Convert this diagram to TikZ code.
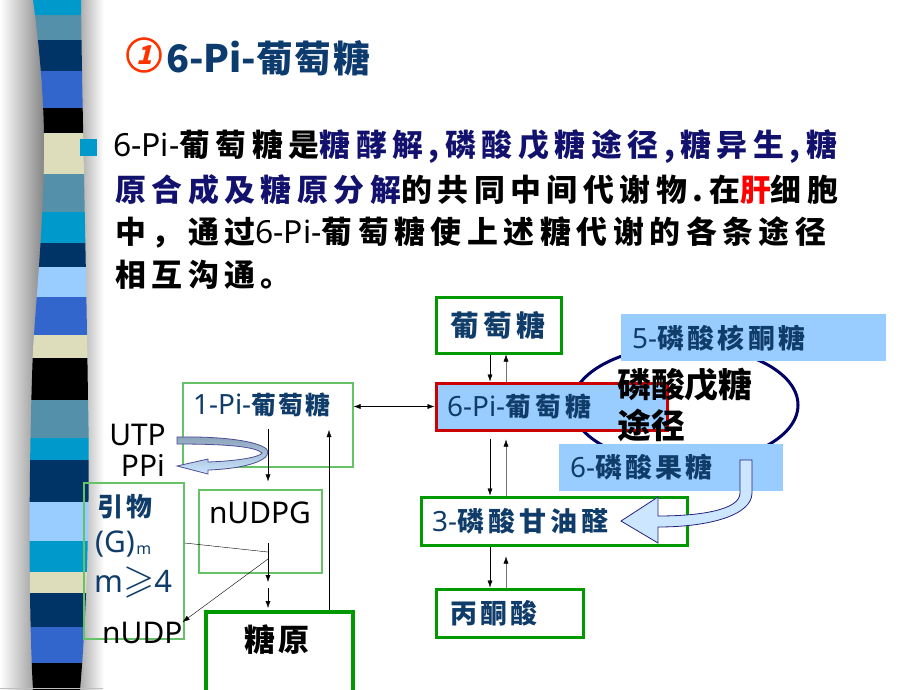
\documentclass[tikz,border=0pt]{standalone}
\usepackage{fontspec}
\usepackage{amssymb}
\setmainfont{Noto Sans}
\newfontfamily\cjk{Noto Sans CJK SC}
\usetikzlibrary{calc,shapes.geometric,arrows.meta}

\definecolor{cyanS}{HTML}{0099CC}
\definecolor{steelS}{HTML}{5590AA}
\definecolor{navyS}{HTML}{003366}
\definecolor{royalS}{HTML}{3366CC}
\definecolor{beigeS}{HTML}{DDDDBB}
\definecolor{lightS}{HTML}{99CCFF}
\definecolor{titleblue}{HTML}{0D3B6E}
\definecolor{labelblue}{HTML}{103C6A}
\definecolor{bodynavy}{HTML}{12126E}
\definecolor{circred}{HTML}{FF3300}
\definecolor{boxblue}{HTML}{99CCFF}
\definecolor{boxred}{HTML}{CC0000}
\definecolor{boxgreen}{HTML}{009900}
\definecolor{thingreen}{HTML}{66C266}
\definecolor{ringnavy}{HTML}{000066}
\definecolor{arrowfill}{HTML}{CCE6FF}
\definecolor{arrowline}{HTML}{22227A}
\definecolor{utptop}{HTML}{8AA2BA}

% spaced CJK text: size, letter space, text
\newcommand\zk[3]{{\fontsize{#1}{#1}\cjk\bfseries\addfontfeature{LetterSpace=#2}#3}}
\newcommand\zt[1]{\zk{31}{18}{#1}}

\begin{document}
\begin{tikzpicture}[x=1bp, y=-1bp, >={Latex[length=7bp,width=5bp]},
    boldbox/.style={draw=boxgreen, line width=3bp},
    thinbox/.style={draw=thingreen, line width=1.2bp},
    lbl/.style={inner sep=0pt, text=labelblue, font=\fontsize{28}{28}\selectfont},
    txt/.style={inner sep=0pt, text=black, font=\fontsize{30}{30}\selectfont},
    upline/.style={draw=black!55, -{Latex[length=7bp,width=5bp,color=black]}}]

    \useasboundingbox (0,0) rectangle (920,690);

    % side stripe
    \shade[left color=white, right color=black!50] (0,0) rectangle (46,690);
    \shade[left color=black!35, right color=white] (78,0) rectangle (104,690);
    \begin{scope}
        \clip (33,0) .. controls (40,50) and (45,110) .. (44,160)
            .. controls (43,230) and (36,300) .. (33,350)
            .. controls (29,450) and (28,600) .. (33,690) -- (80,690)
            .. controls (88,600) and (90,480) .. (88,400)
            .. controls (86,250) and (82,100) .. (81,0) -- cycle;
        \foreach \ya/\yb/\c in {0/15/cyanS, 15/40/steelS, 40/71/navyS, 71/108/royalS,
            108/133/black, 133/174/beigeS, 174/212/steelS, 212/243/cyanS, 243/267/navyS,
            267/297/lightS, 297/335/royalS, 335/358/beigeS, 358/400/black, 400/438/steelS,
            438/460/cyanS, 460/502/navyS, 502/541/lightS, 541/572/cyanS, 572/593/beigeS,
            593/627/navyS, 627/663/royalS, 663/690/black}
            \fill[\c] (20,\ya) rectangle (100,\yb);
    \end{scope}
    \draw[black!25] (0,688) -- (103,688);

    % title
    \node[circle, draw=circred, line width=2.5bp, minimum size=33bp, inner sep=0pt,
        text=circred, font=\fontsize{26}{26}\cjk\bfseries\addfontfeature{FakeSlant=0.25}]
        (num) at (144,55) {1};
    \node[anchor=west, inner sep=0pt, text=titleblue, font=\fontsize{38}{40}\cjk\bfseries]
        (title) at (166,58) {6-Pi-\zk{37}{4}{葡萄糖}};

    % bullet text
    \node[fill=cyanS, minimum size=17bp, inner sep=0pt] (bullet) at (88.5,147.5) {};
    \node[txt, anchor=west, font=\fontsize{32}{32}\selectfont] (line1) at (113,147)
        {6-Pi-\zt{葡萄糖是}{\color{bodynavy}\zt{糖酵解,磷酸戊糖途径,糖异生,糖}}};
    \node[txt, anchor=west] (line2) at (115,190)
        {{\color{bodynavy}\zt{原合成及糖原分解}}\zt{的共同中间代谢物.在}{\color{red}\zt{肝}}\zt{细胞}};
    \node[txt, anchor=west, font=\fontsize{32}{32}\selectfont] (line3) at (115,232)
        {\zt{中，通过}6-Pi-\zt{葡萄糖使上述糖代谢的各条途径}};
    \node[txt, anchor=west] (line4) at (115,275) {\zt{相互沟通。}};

    % pentose phosphate ring
    \node[ellipse, draw=ringnavy, line width=3bp, minimum width=226bp,
        minimum height=118bp] (ring) at (685,405) {};

    % boxes
    \node[boldbox, minimum width=125bp, minimum height=56bp] (glc) at (498.5,325) {};
    \node[fill=boxblue, draw=boxred, line width=3bp, minimum width=231bp,
        minimum height=47bp] (gsix) at (551.5,406.5) {};
    \node[fill=boxblue, minimum width=265bp, minimum height=47bp] (ribu) at (753.5,337.5) {};
    \node[fill=boxblue, minimum width=224bp, minimum height=47bp] (fru) at (671,467.5) {};
    \node[boldbox, fill=white, minimum width=266bp, minimum height=48bp] (gap) at (554,521) {};
    \node[boldbox, minimum width=147bp, minimum height=48bp] (pyr) at (509.5,613) {};
    \node[thinbox, minimum width=170bp, minimum height=84bp] (gone) at (268,425) {};
    \node[thinbox, minimum width=123bp, minimum height=83bp] (udpg) at (260.5,531.5) {};
    \node[thinbox, minimum width=100bp, minimum height=156bp] (primer) at (134,561) {};
    \node[draw=boxgreen, line width=4bp, minimum width=147bp,
        minimum height=90bp] (glycogen) at (279.5,657) {};

    % labels
    \node[lbl] (glct) at (498,325) {\zk{29}{14}{葡萄糖}};
    \node[lbl, anchor=west] (gsixt) at (447,406) {6-Pi-\zk{26}{16}{葡萄糖}};
    \node[lbl, anchor=west] (ribut) at (632,338) {5-\zk{27}{13}{磷酸核酮糖}};
    \node[lbl, anchor=west] (frut) at (570,467) {6-\zk{27}{12}{磷酸果糖}};
    \node[lbl, anchor=west] (gapt) at (432,521) {3-\zk{27}{16}{磷酸甘油醛}};
    \node[lbl, anchor=west] (pyrt) at (450,613) {\zk{27}{12}{丙酮酸}};
    \node[lbl, anchor=west] (gonet) at (193,405) {1-Pi-\zk{25}{10}{葡萄糖}};
    \node[txt] (glycogent) at (277,640) {\zk{31}{10}{糖原}};
    \node[lbl, anchor=west] (primert) at (97,507) {\zk{26}{15}{引物}};
    \node[lbl, anchor=west, font=\fontsize{30}{30}\selectfont] (gm) at (95,544) {(G)};
    \node[lbl, anchor=west, font=\fontsize{16}{16}\selectfont] (gmsub)
        at ($(gm.east)+(1,6)$) {m};
    \node[lbl, anchor=west, font=\fontsize{31}{31}\selectfont] (mge) at (94,582)
        {m\scalebox{1.3}{$\geqslant$}4};
    \node[txt, anchor=east] (utp) at (166,435) {UTP};
    \node[txt, anchor=east] (ppi) at (165,465) {PPi};
    \node[txt] (udpgt) at (260,513) {nUDPG};
    \node[txt, anchor=west] (nudp) at (102,633) {nUDP};

    % right column arrows
    \coordinate (down) at (490,0);
    \coordinate (up) at (506,0);
    \draw[->] (glc.south -| down) -- (gsix.north -| down);
    \draw[upline] (gsix.north -| up) -- (glc.south -| up);
    \draw[->, shorten <=7bp] (gsix.south -| down) -- (gap.north -| down);
    \draw[upline, shorten >=8bp] (gap.north -| up) -- (gsix.south -| up);
    \draw[->] (gap.south -| down) -- (pyr.north -| down);
    \draw[upline, shorten >=10bp] (pyr.north -| up) -- (gap.south -| up);
    \draw[<->] (gone.east |- gsix.west) -- (gsix.west);

    % glycogen synthesis
    \coordinate (gout) at (268,429);
    \coordinate (jtop) at (268,543);
    \coordinate (jmid) at (268,552);
    \coordinate (jlow) at (268,559);
    \coordinate (jend) at (268,582);
    \coordinate (jnext) at (268,588);
    \coordinate (backtop) at (329,430);
    \draw[->, shorten >=8bp] (gout) -- (gout |- udpg.north);
    \draw ($(primer.east)+(0,-18)$) -- (jmid);
    \draw[->] (jtop) -- (jend);
    \draw[->, shorten >=2bp] (jnext) -- (jnext |- glycogen.north);
    \draw[->] (jlow) -- (nudp.north east);
    \draw[->] (glycogen.north -| backtop) -- (backtop);

    % fat arrows
    \draw[draw=arrowline, fill=arrowfill, line width=0.8bp]
        (740,460) -- (740,493) .. controls (740,510) and (700,516) .. (658,516)
        -- (658,497) -- (621,521) -- (658,543) -- (658,527)
        .. controls (710,527) and (752,515) .. (752,493) -- (752,460) -- cycle;
    \draw[draw=arrowline!80, top color=utptop, bottom color=arrowfill, line width=0.8bp]
        (177,437) .. controls (235,436) and (268,444) .. (268,452)
        .. controls (268,462) and (240,469) .. (208,470) -- (208,474) -- (177,466)
        -- (208,459) -- (208,462) .. controls (238,461) and (260,457) .. (262,453)
        .. controls (256,447) and (230,444) .. (177,444) -- cycle;

    % pathway name on top
    \node[txt, anchor=north west, align=left, font=\fontsize{34}{41}\selectfont] (pppt)
        at (617,368) {\zk{34}{0}{磷酸戊糖}\\\zk{34}{0}{途径}};
\end{tikzpicture}
\end{document}
